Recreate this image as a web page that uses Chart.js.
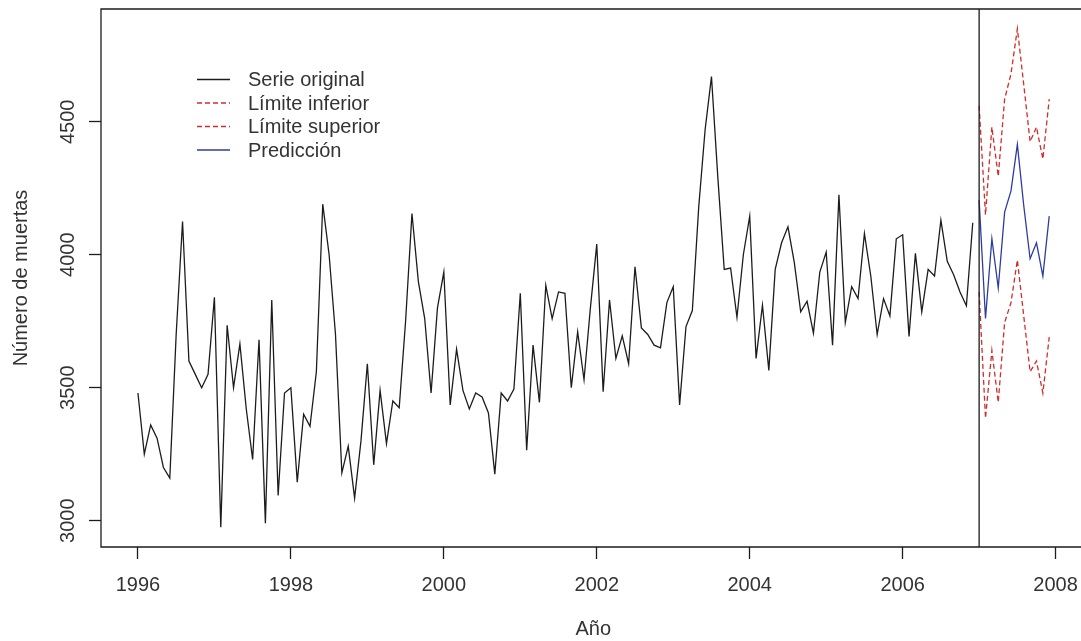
<!DOCTYPE html>
<html>
<head>
<meta charset="utf-8">
<title>Número de muertas</title>
<script src="https://cdn.jsdelivr.net/npm/chart.js@4.4.1/dist/chart.umd.min.js"></script>
<style>
  html, body { margin: 0; padding: 0; background: #fff; overflow: hidden; }
  #caja { width: 1092px; height: 641px; }
</style>
</head>
<body>
<div id="caja"><canvas id="grafico" width="1092" height="641"></canvas></div>
<script>
// serie mensual, enero 1996 - diciembre 2006
const anioInicio = 1996;
const serieOriginal = [
  3480, 3250, 3360, 3310, 3200, 3160, 3700, 4125, 3600, 3550, 3500, 3550,
  3840, 2975, 3735, 3500, 3665, 3420, 3230, 3680, 2990, 3830, 3095, 3480,
  3500, 3145, 3400, 3355, 3560, 4190, 4000, 3700, 3180, 3280, 3085, 3300,
  3590, 3210, 3490, 3290, 3450, 3425, 3750, 4155, 3900, 3760, 3480, 3800,
  3935, 3435, 3645, 3490, 3420, 3480, 3465, 3405, 3175, 3480, 3450, 3495,
  3855, 3265, 3660, 3445, 3885, 3760, 3860, 3855, 3500, 3710, 3530, 3800,
  4040, 3485, 3830, 3610, 3695, 3590, 3955, 3725, 3700, 3660, 3650, 3820,
  3880, 3435, 3730, 3790, 4180, 4470, 4670, 4290, 3945, 3950, 3765, 4000,
  4145, 3610, 3810, 3565, 3945, 4045, 4105, 3970, 3785, 3825, 3705, 3935,
  4010, 3660, 4225, 3745, 3880, 3835, 4080, 3920, 3700, 3835, 3770, 4060,
  4075, 3693, 4005, 3785, 3945, 3920, 4130, 3975, 3925, 3860, 3808, 4120
];
// prediccion 2007 con sus limites
const anioPrediccion = 2007;
const prediccion = [4205, 3760, 4060, 3875, 4160, 4240, 4415, 4185, 3985, 4045, 3920, 4145];
const limiteInferior = [3860, 3385, 3640, 3445, 3745, 3820, 3980, 3770, 3560, 3600, 3480, 3690];
const limiteSuperior = [4560, 4150, 4480, 4295, 4585, 4680, 4850, 4640, 4425, 4480, 4360, 4585];

const xTicks = [1996, 1998, 2000, 2002, 2004, 2006, 2008];
const yTicks = [3000, 3500, 4000, 4500];
const corte = 2007;

const etiquetas = ["Serie original", "Límite inferior", "Límite superior", "Predicción"];

const NEGRO = "#1c1c1c";
const ROJO = "#d42b2b";
const AZUL = "#2d3c9e";
const TEXTO = "#333";
const FUENTE = "'Liberation Sans', Arial, sans-serif";

const aPuntos = (valores, inicio) => valores.map((v, i) => ({ x: inicio + i / 12, y: v }));

// caja, linea vertical, etiquetas del eje y y leyenda
const extras = {
  id: "extras",
  afterDatasetsDraw(chart) {
    const ctx = chart.ctx;
    const a = chart.chartArea;
    const xs = chart.scales.x, ys = chart.scales.y;
    ctx.save();
    ctx.strokeStyle = NEGRO;
    ctx.lineWidth = 1.3;
    ctx.beginPath();
    ctx.moveTo(a.right, a.top); ctx.lineTo(a.left, a.top);
    ctx.lineTo(a.left, a.bottom); ctx.lineTo(a.right, a.bottom);
    const xc = xs.getPixelForValue(corte);
    ctx.moveTo(xc, a.top); ctx.lineTo(xc, a.bottom);
    ctx.stroke();

    ctx.fillStyle = TEXTO;
    ctx.font = "20px " + FUENTE;
    ctx.textAlign = "center";
    ctx.textBaseline = "middle";
    yTicks.forEach(v => {
      ctx.save();
      ctx.translate(68, ys.getPixelForValue(v));
      ctx.rotate(-Math.PI / 2);
      ctx.fillText(String(v), 0, 0);
      ctx.restore();
    });

    // leyenda
    const estilos = [
      { c: NEGRO, d: [] }, { c: ROJO, d: [5, 3] }, { c: ROJO, d: [5, 3] }, { c: AZUL, d: [] }
    ];
    ctx.textAlign = "left";
    etiquetas.forEach((t, i) => {
      const y = 79.5 + i * 23.5;
      ctx.strokeStyle = estilos[i].c;
      ctx.setLineDash(estilos[i].d);
      ctx.beginPath();
      ctx.moveTo(197, y); ctx.lineTo(230, y);
      ctx.stroke();
      ctx.setLineDash([]);
      ctx.fillText(t, 248, y + 1);
    });
    ctx.restore();
  }
};

new Chart(document.getElementById("grafico"), {
  type: "line",
  data: {
    datasets: [
      { label: etiquetas[0], data: aPuntos(serieOriginal, anioInicio), borderColor: NEGRO, borderWidth: 1.3 },
      { label: etiquetas[1], data: aPuntos(limiteInferior, anioPrediccion), borderColor: ROJO, borderWidth: 1.3, borderDash: [5, 3] },
      { label: etiquetas[2], data: aPuntos(limiteSuperior, anioPrediccion), borderColor: ROJO, borderWidth: 1.3, borderDash: [5, 3] },
      { label: etiquetas[3], data: aPuntos(prediccion, anioPrediccion), borderColor: AZUL, borderWidth: 1.3 }
    ]
  },
  options: {
    responsive: false,
    animation: false,
    devicePixelRatio: 1,
    layout: { padding: { left: 0, right: 5, top: 9, bottom: 0 } },
    elements: { point: { radius: 0 }, line: { tension: 0, fill: false } },
    plugins: { legend: { display: false }, tooltip: { enabled: false } },
    scales: {
      x: {
        type: "linear",
        min: 1995.517,
        max: 2008.393,
        afterBuildTicks: s => { s.ticks = xTicks.map(v => ({ value: v })); },
        afterFit: s => { s.height = 94; },
        border: { display: false },
        grid: { drawOnChartArea: false, drawTicks: true, tickLength: 12, color: NEGRO, tickWidth: 1.3 },
        ticks: { padding: 14, color: TEXTO, font: { size: 20, family: FUENTE }, callback: v => String(v) },
        title: { display: true, text: "Año", color: TEXTO, font: { size: 20, family: FUENTE }, padding: { top: 0, bottom: 0 } }
      },
      y: {
        min: 2901,
        max: 4924,
        afterBuildTicks: s => { s.ticks = yTicks.map(v => ({ value: v })); },
        afterFit: s => { s.width = 101; },
        border: { display: false },
        grid: { drawOnChartArea: false, drawTicks: true, tickLength: 12, color: NEGRO, tickWidth: 1.3 },
        ticks: { display: false },
        title: { display: true, text: "Número de muertas", color: TEXTO, font: { size: 20, family: FUENTE }, padding: { top: 9, bottom: 0 } }
      }
    }
  },
  plugins: [extras]
});
</script>
</body>
</html>
